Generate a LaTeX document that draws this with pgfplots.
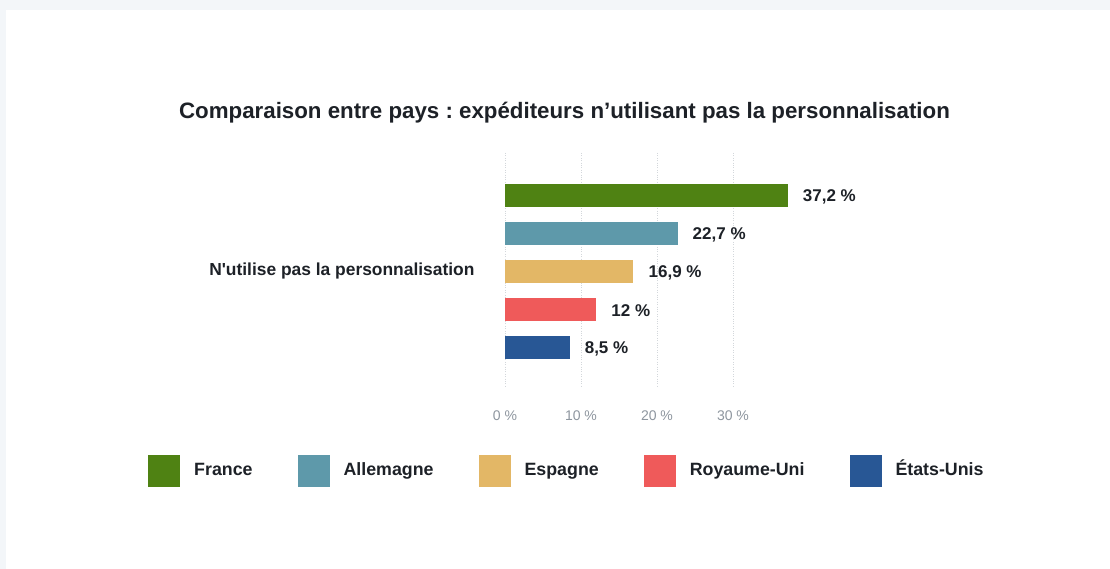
\documentclass[border=0pt]{standalone}
\usepackage{fontspec}
\setmainfont{Liberation Sans}
\usepackage{pgfplots}
\pgfplotsset{compat=1.18}
\frenchspacing

\definecolor{pagebg}{HTML}{F3F6F9}
\definecolor{txt}{HTML}{1D2127}
\definecolor{ticktxt}{HTML}{8E969F}
\definecolor{gridc}{HTML}{D3D7DB}
\definecolor{cFR}{HTML}{4F8213}
\definecolor{cDE}{HTML}{5E99AA}
\definecolor{cES}{HTML}{E3B766}
\definecolor{cUK}{HTML}{EF5A5A}
\definecolor{cUS}{HTML}{285795}

\pgfplotsset{
  onebar/.style={fill=#1, draw=none, bar shift=0pt,
    legend image code/.code={\fill[#1] (0pt,-16pt) rectangle (32pt,16pt);}},
}

\begin{document}
\begin{tikzpicture}
% page and white card
\fill[pagebg] (0,0) rectangle (1110pt,-569pt);
\fill[white] (6pt,-10pt) rectangle (1110pt,-569pt);
\node[font=\bfseries\fontsize{22.3}{26}\selectfont, text=txt]
  at (564.5pt,-113pt) {Comparaison entre pays : expéditeurs n’utilisant pas la personnalisation};

\begin{axis}[
  at={(505pt,-388pt)}, anchor=south west,
  scale only axis, width=304pt, height=235pt,
  xbar, bar width=23pt,
  y dir=reverse,
  xmin=0, xmax=40, ymin=-1.118, ymax=5.066,
  xtick={0,10,20,30},
  xticklabel={\pgfmathprintnumber{\tick}~\%},
  /pgf/number format/assume math mode=true,
  xticklabel style={font=\fontsize{14}{17}\selectfont, text=ticktxt, yshift=-19pt},
  ytick={2}, yticklabels={N\textquotesingle utilise pas la personnalisation},
  yticklabel style={font=\bfseries\fontsize{17.4}{20}\selectfont, text=txt, xshift=-27pt},
  xmajorgrids, major grid style={gridc, dotted, line width=1pt},
  axis line style={draw=none}, major tick length=0pt,
  point meta=x,
  nodes near coords={\pgfmathprintnumber[fixed, precision=1, use comma]{\pgfplotspointmeta}~\%},
  nodes near coords style={font=\bfseries\fontsize{17}{20}\selectfont, text=txt, anchor=west, inner sep=0pt, xshift=15pt, yshift=-1.5pt},
  legend columns=5,
  legend style={at={(axis description cs:-1.1743,-0.3532)}, anchor=west,
    draw=none, fill=none, inner sep=0pt,
    nodes={inner sep=0pt, text=txt, text height=12.5pt, text depth=3.5pt},
    font=\bfseries\fontsize{17.8}{21}\selectfont,
    /tikz/every even column/.append style={column sep=45pt},
    /tikz/every odd column/.append style={column sep=14pt}},
]
\addplot[onebar=cFR] coordinates {(37.2,0)};
\addplot[onebar=cDE] coordinates {(22.7,1)};
\addplot[onebar=cES] coordinates {(16.9,2)};
\addplot[onebar=cUK] coordinates {(12,3)};
\addplot[onebar=cUS] coordinates {(8.5,4)};
\legend{France, Allemagne, Espagne, Royaume-Uni, États-Unis}
\end{axis}
\end{tikzpicture}
\end{document}
